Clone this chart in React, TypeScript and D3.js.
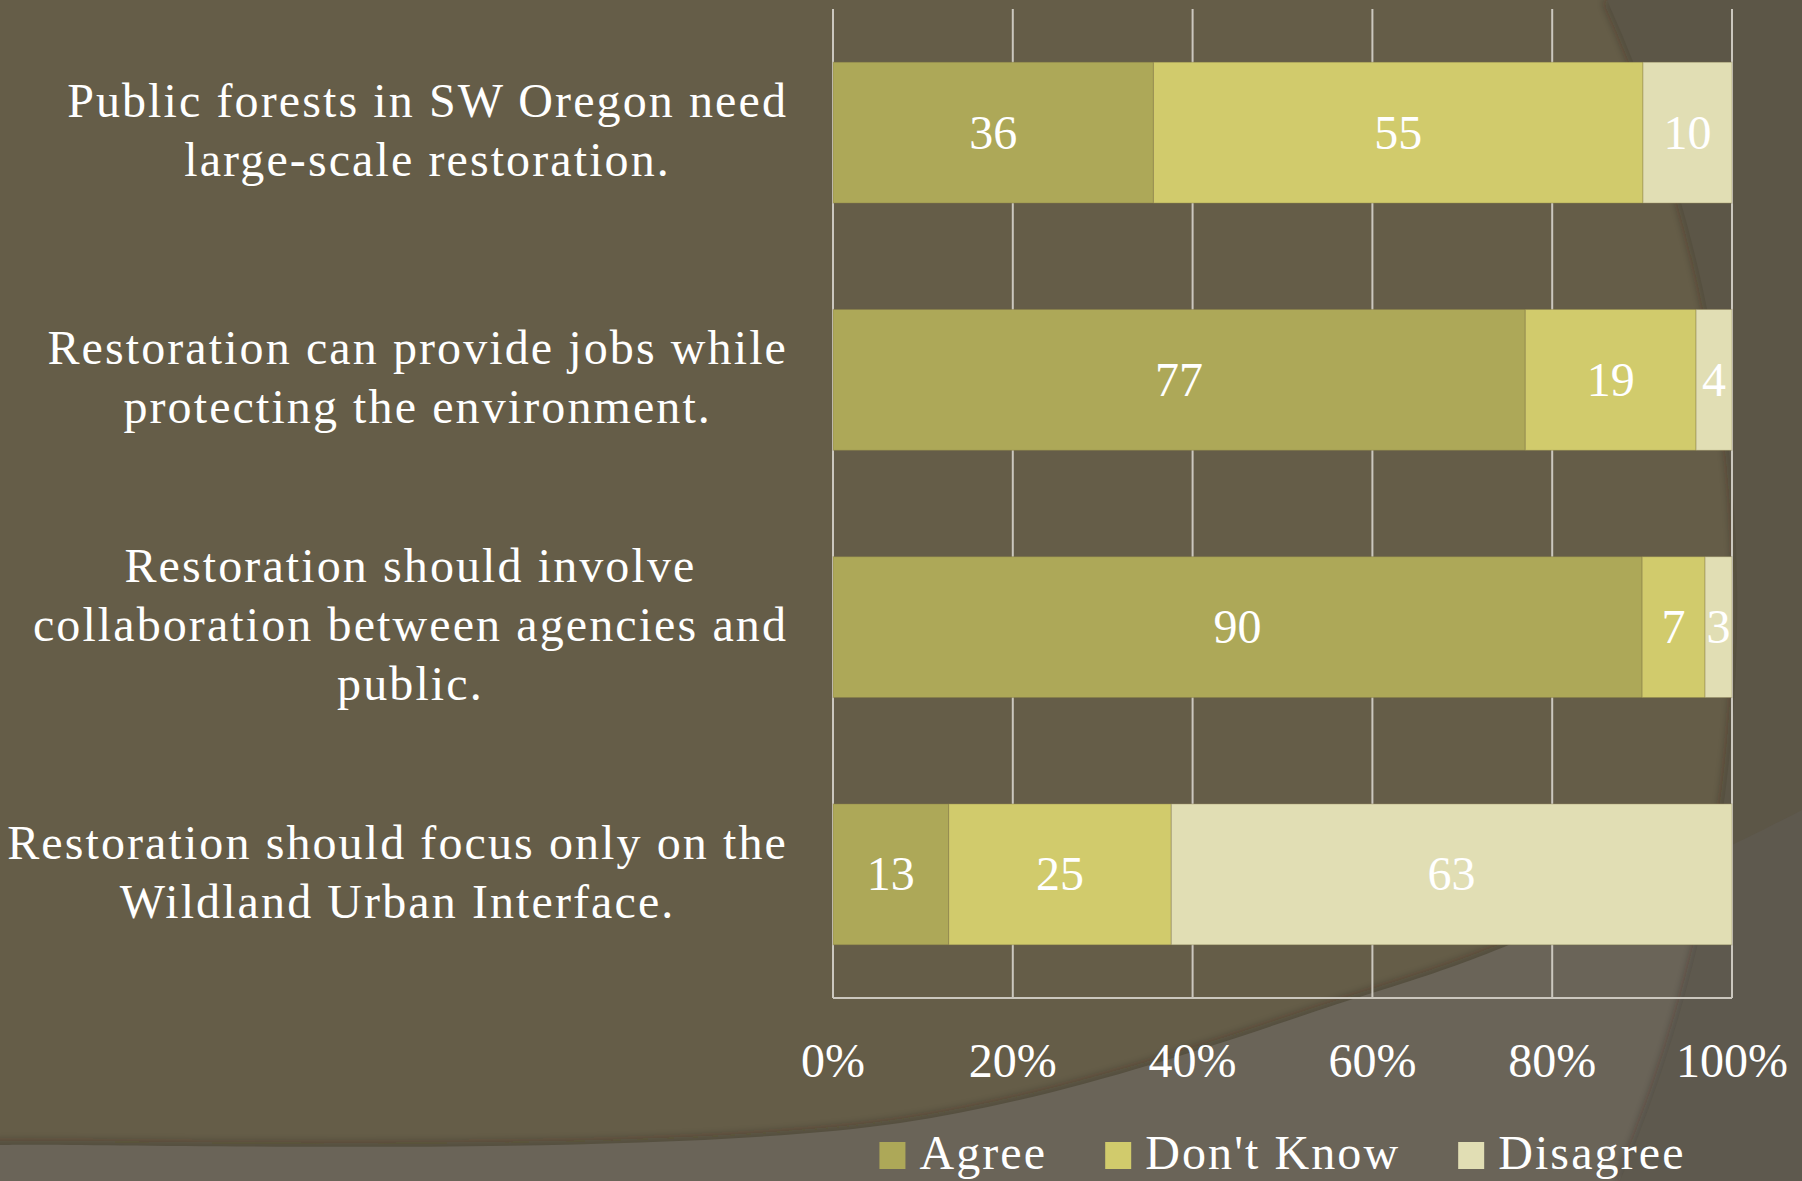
import React, { useEffect, useRef } from 'react';
import * as d3 from 'd3';

const categories: string[][] = [
  ["Public forests in SW Oregon need", "large-scale restoration."],
  ["Restoration can provide jobs while", "protecting the environment."],
  ["Restoration should involve", "collaboration between agencies and", "public."],
  ["Restoration should focus only on the", "Wildland Urban Interface."],
];
const seriesNames = ["Agree", "Don't Know", "Disagree"];
const agree = [36, 77, 90, 13];
const dontKnow = [55, 19, 7, 25];
const disagree = [10, 4, 3, 63];
const tickValues = [0, 0.2, 0.4, 0.6, 0.8, 1];
const seriesColors = ["#ADA858", "#D1CB6C", "#E1DEB4"];

const W = 1802;
const H = 1181;
const FONT = "'Liberation Serif', 'Times New Roman', serif";
const FS = 48;
const LS = 2.1;

export default function App() {
  const ref = useRef<SVGSVGElement | null>(null);

  useEffect(() => {
    document.body.style.margin = '0';
    const svg = d3.select(ref.current);
    svg.selectAll('*').remove();

    // ---------- background ----------
    const defs = svg.append('defs');
    defs.append('filter').attr('id', 'blur').append('feGaussianBlur').attr('stdDeviation', 4);

    svg.append('rect').attr('width', W).attr('height', H).attr('fill', '#655D48');

    const lowerPts: [number, number][] = [[-20, 1146], [0, 1145], [900, 1123], [1372, 993], [1504, 947], [1732, 845], [1802, 810], [1830, 795]];
    const lowerLine = d3.line().curve(d3.curveCatmullRom)(lowerPts) as string;
    const lowerPath = lowerLine + ` L1830,${H + 20} L-20,${H + 20} Z`;
    defs.append('clipPath').attr('id', 'lowerClip').append('path').attr('d', lowerPath);

    svg.append('path').attr('d', lowerLine).attr('fill', 'none').attr('stroke', 'rgba(40,35,25,0.35)')
      .attr('stroke-width', 8).attr('filter', 'url(#blur)');
    svg.append('path').attr('d', lowerPath).attr('fill', '#6A6458');

    const rightPath = `M1607,0 A1472,1472 0 0 1 1620,${H} L${W},${H} L${W},0 Z`;
    const rightArc = `M1607,0 A1472,1472 0 0 1 1620,${H}`;
    svg.append('path').attr('d', rightArc).attr('fill', 'none').attr('stroke', 'rgba(40,35,25,0.35)')
      .attr('stroke-width', 8).attr('filter', 'url(#blur)');
    svg.append('path').attr('d', rightPath).attr('fill', '#5C5647');
    svg.append('path').attr('d', rightPath).attr('fill', '#5E594E').attr('clip-path', 'url(#lowerClip)');

    // ---------- scales ----------
    const x = d3.scaleLinear().domain([0, 1]).range([833, 1732]);
    const y = d3.scaleBand<number>().domain(d3.range(categories.length))
      .range([9, 998]).paddingInner(0.43).paddingOuter(0.215);

    // gridlines
    const g = svg.append('g');
    g.selectAll('line.grid').data(tickValues).join('line')
      .attr('x1', d => x(d)).attr('x2', d => x(d))
      .attr('y1', 9).attr('y2', 998)
      .attr('stroke', '#CBC7BE').attr('stroke-width', 2);
    g.append('line').attr('x1', x(0)).attr('x2', x(1)).attr('y1', 998).attr('y2', 998)
      .attr('stroke', '#CBC7BE').attr('stroke-width', 2);

    // stacked data normalized to 100%
    const rows = categories.map((_, i) => {
      const vals = [agree[i], dontKnow[i], disagree[i]];
      const total = d3.sum(vals);
      let acc = 0;
      return vals.map((v, s) => {
        const x0 = acc / total;
        acc += v;
        return { i, s, v, x0, x1: acc / total };
      });
    });
    const segs = rows.flat();

    svg.append('g').selectAll('rect').data(segs).join('rect')
      .attr('x', d => x(d.x0)).attr('width', d => x(d.x1) - x(d.x0))
      .attr('y', d => y(d.i)!).attr('height', y.bandwidth())
      .attr('fill', d => seriesColors[d.s])
      .attr('stroke', 'rgba(120,110,70,0.35)').attr('stroke-width', 1);

    svg.append('g').selectAll('text').data(segs).join('text')
      .attr('x', d => (x(d.x0) + x(d.x1)) / 2)
      .attr('y', d => y(d.i)! + y.bandwidth() / 2 + 16)
      .attr('text-anchor', 'middle').attr('fill', '#FFFFFF')
      .attr('font-family', FONT).attr('font-size', FS)
      .text(d => String(d.v));

    // category labels
    const labelRight = 788;
    const lineH = 59;
    categories.forEach((lines, i) => {
      const cy = y(i)! + y.bandwidth() / 2;
      const grp = svg.append('g');
      const texts = grp.selectAll('text').data(lines).join('text')
        .attr('font-family', FONT).attr('font-size', FS).attr('fill', '#FFFFFF')
        .attr('letter-spacing', LS)
        .attr('text-anchor', 'start')
        .attr('y', (_, k) => cy + (k - (lines.length - 1) / 2) * lineH + 14)
        .text(d => d);
      const widths: number[] = [];
      texts.each(function () {
        widths.push((this as SVGTextElement).getComputedTextLength());
      });
      const maxW = d3.max(widths) || 0;
      const center = labelRight - maxW / 2;
      texts.attr('x', (_, k) => center - widths[k] / 2);
    });

    // x tick labels
    svg.append('g').selectAll('text').data(tickValues).join('text')
      .attr('x', d => x(d)).attr('y', 1077)
      .attr('text-anchor', 'middle').attr('fill', '#FFFFFF')
      .attr('font-family', FONT).attr('font-size', FS)
      .text(d => d3.format('.0%')(d));

    // legend
    const lg = svg.append('g');
    const sq = 26, gapIn = 14, gapOut = 58;
    const items = seriesNames.map((name, s) => {
      const t = lg.append('text').attr('font-family', FONT).attr('font-size', FS)
        .attr('letter-spacing', LS)
        .attr('fill', '#FFFFFF').attr('y', 1169).text(name);
      const w = (t.node() as SVGTextElement).getComputedTextLength();
      return { t, w, s };
    });
    const total = d3.sum(items, d => sq + gapIn + d.w) + gapOut * (items.length - 1);
    let cx = (x(0) + x(1)) / 2 - total / 2;
    items.forEach(it => {
      lg.append('rect').attr('x', cx).attr('y', 1142).attr('width', sq).attr('height', 27)
        .attr('fill', seriesColors[it.s]);
      it.t.attr('x', cx + sq + gapIn);
      cx += sq + gapIn + it.w + gapOut;
    });
  }, []);

  return (
    <svg ref={ref} width={W} height={H}
      style={{ display: 'block', position: 'absolute', left: 0, top: 0 }} />
  );
}
